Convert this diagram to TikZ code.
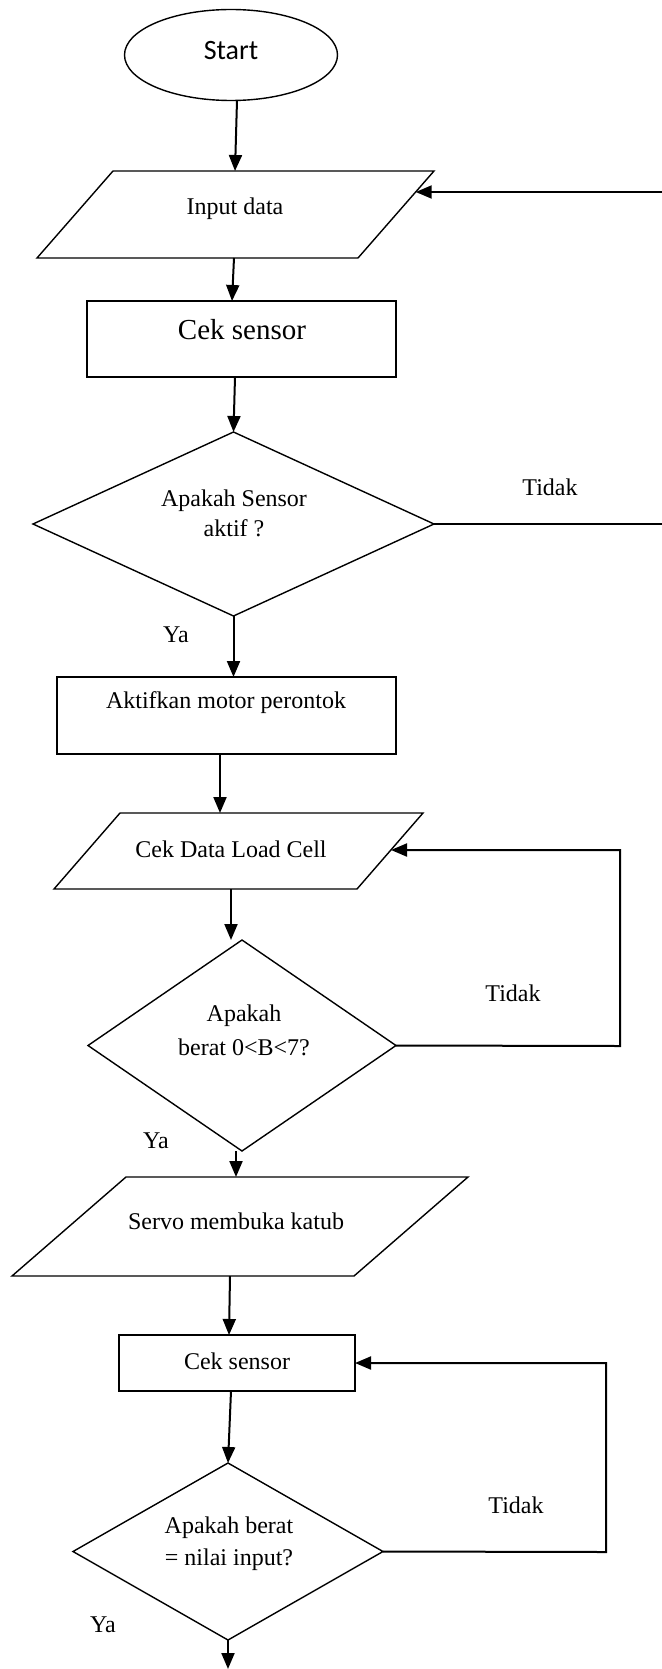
\documentclass[tikz,border=0pt]{standalone}
\usepackage{fontspec}
\setmainfont{Liberation Serif}
\newfontfamily\calibfont{Carlito}
\usetikzlibrary{shapes.geometric,arrows.meta}
\begin{document}
\begin{tikzpicture}[x=0.5pt,y=-0.5pt,
  shp/.style={draw=black, line width=0.7pt, inner sep=0pt, outer sep=0pt},
  arr/.style={draw=black, line width=1pt, -{Triangle[length=8pt,width=6.5pt]}},
  txt/.style={font=\fontsize{12}{15}\selectfont, align=center, inner sep=0pt}
]
\useasboundingbox (0,0) rectangle (661,1669);

% Start
\node[shp, ellipse, minimum width=106.5pt, minimum height=45.5pt] (start) at (231,55) {};
\node[font=\calibfont\fontsize{14}{16}\selectfont, inner sep=0pt] (starttxt) at (231,51) {Start};

% Input data (parallelogram)
\coordinate (inA) at (113,171);
\coordinate (inB) at (434,171);
\coordinate (inC) at (358,258);
\coordinate (inD) at (37,258);
\draw[shp] (inA) -- (inB) -- (inC) -- (inD) -- cycle;
\node[txt] (input) at (235,209) {Input data};
\coordinate (inTop) at (235,171);
\coordinate (inBot) at (234,258);
\coordinate (inRight) at (415.7,192);

% Cek sensor 1
\node[shp, rectangle, minimum width=154.5pt, minimum height=38pt] (cek1) at (241.5,339) {};
\node[font=\fontsize{14.5}{17}\selectfont, inner sep=0pt] (cek1t) at (242,330) {Cek sensor};

% Decision 1
\node[shp, diamond, minimum width=200.5pt, minimum height=92pt] (d1) at (233.5,524) {};
\node[txt] (d1t) at (234,513) {Apakah Sensor\\aktif ?};
\node[txt] (tidak1) at (550,487) {Tidak};
\node[txt] (ya1) at (176,635) {Ya};

% Aktifkan motor
\node[shp, rectangle, minimum width=169.5pt, minimum height=38.5pt] (akt) at (226.5,715.5) {};
\node[txt] (aktt) at (226,703) {Aktifkan motor perontok};

% Cek Data Load Cell (parallelogram)
\coordinate (cdA) at (120,813);
\coordinate (cdB) at (423,813);
\coordinate (cdC) at (357,889);
\coordinate (cdD) at (54,889);
\draw[shp] (cdA) -- (cdB) -- (cdC) -- (cdD) -- cycle;
\node[txt] (cdt) at (231,849) {Cek Data Load Cell};
\coordinate (cdTop) at (220,813);
\coordinate (cdBot) at (231,889);
\coordinate (cdR) at (391,850);

% Decision 2
\node[shp, diamond, minimum width=154pt, minimum height=105.5pt] (d2) at (242,1045.5) {};
\node[txt] (d2t) at (244,1030) {Apakah\\[2pt]berat 0<B<7?};
\node[txt] (tidak2) at (513,993) {Tidak};
\node[txt] (ya2) at (156,1141) {Ya};

% Servo (parallelogram)
\coordinate (svA) at (126,1177);
\coordinate (svB) at (468,1177);
\coordinate (svC) at (354,1276);
\coordinate (svD) at (12,1276);
\draw[shp] (svA) -- (svB) -- (svC) -- (svD) -- cycle;
\node[txt] (svt) at (236,1221) {Servo membuka katub};
\coordinate (svTop) at (236,1177);
\coordinate (svBot) at (230,1276);

% Cek sensor 2
\node[shp, rectangle, minimum width=118pt, minimum height=28pt] (cek2) at (237,1363) {};
\node[txt] (cek2t) at (237,1361) {Cek sensor};

% Decision 3
\node[shp, diamond, minimum width=155pt, minimum height=88.5pt] (d3) at (228,1551.5) {};
\node[txt] (d3t) at (229,1544) {Apakah berat\\[1pt]= nilai input?};
\node[txt] (tidak3) at (516,1505) {Tidak};
\node[txt] (ya3) at (103,1625) {Ya};
\coordinate (endpt) at (228,1669);

% Connectors
\draw[arr] ([xshift=3pt]start.south) -- (inTop);
\draw[arr] (inBot) -- ([xshift=-4.75pt]cek1.north);
\draw[arr] ([xshift=-3.25pt]cek1.south) -- (d1.north);
\draw[arr] (d1.east) -- (675,524) -- (675,192) -- (inRight);
\draw[arr] (d1.south) -- (d1.south |- akt.north);
\draw[arr] ([xshift=-3.25pt]akt.south) -- (cdTop);
\draw[arr] (cdBot) -- (cdBot |- d2.north);
\draw[arr] (d2.east) -- (620,1046) -- (620,850) -- (cdR);
\draw[arr] ([xshift=-3pt]d2.south) -- (svTop);
\draw[arr] (svBot) -- ([xshift=-4pt]cek2.north);
\draw[arr] (d3.east) -- (606,1552) -- (606,1363) -- (cek2.east);
\draw[arr] ([xshift=-3pt]cek2.south) -- (d3.north);
\draw[arr] (d3.south) -- (endpt);
\end{tikzpicture}
\end{document}
